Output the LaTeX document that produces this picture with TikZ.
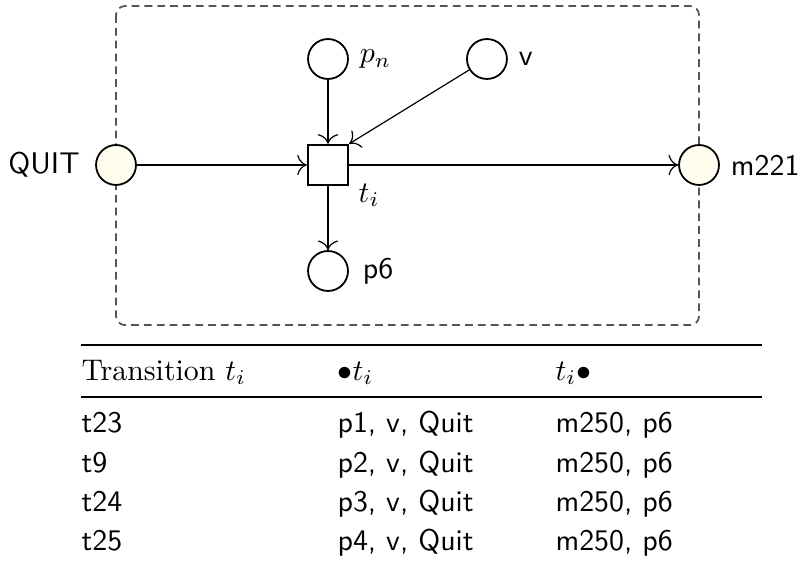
\documentclass[tikz,border=0pt]{standalone}
\usepackage{amsmath}
\usetikzlibrary{arrows.meta}

\begin{document}
\begin{tikzpicture}[
  place/.style={circle,draw,semithick,minimum size=0.47cm,inner sep=0pt},
  bound/.style={place,fill=pn_cream},
  trans/.style={rectangle,draw,thick,minimum size=0.47cm,inner sep=0pt},
  arc/.style={-{To[scale=1.3]},thin},
  lab/.style={font=\sffamily},
  cell/.style={anchor=base west,inner sep=0pt,font=\sffamily}
]
\definecolor{pn_cream}{RGB}{255,253,238} %#FFFDEE
\definecolor{pn_gray}{RGB}{85,85,85}     %#555555

\useasboundingbox (0,0) rectangle (9.412,-6.635);

\def\tl{0.953}
\def\tm{3.965}
\def\tr{6.529}
\def\te{8.965}

% subnet frame
\draw [pn_gray,semithick,dash pattern=on 2.6pt off 1.7pt,rounded corners=3pt]
  (1.365,-0.071) rectangle (8.224,-3.824);

\node [trans] (t) at (3.859,-1.941) {};
\node [anchor=north west,inner sep=0pt] (tlab) at ([xshift=3pt,yshift=1pt]t.south east) {$t_i$};

\node [place,label={[inner sep=3.5pt]right:$p_n$}] (pn) at (3.859,-0.694) {};
\node [place,label={[lab,inner sep=3.5pt]right:v}] (v) at (5.729,-0.694) {};
\node [place,label={[lab,inner sep=4.5pt]right:p6}] (p6) at (3.859,-3.188) {};
\node [bound,label={[lab,inner sep=5pt]left:QUIT}] (quit) at (1.365,-1.941) {};
\node [bound,label={[lab,inner sep=3.5pt]right:m221}] (m) at (8.224,-1.941) {};

\draw [arc] (quit) -- (t);
\draw [arc] (pn) -- (t);
\draw [arc] (v) -- (t.north east);
\draw [arc] (t) -- (m);
\draw [arc] (t) -- (p6);

% pre/post sets
\coordinate (top) at (\tl,-4.059);
\coordinate (mid) at (\tl,-4.671);
\draw [line width=0.8pt] (top) -- (\te,-4.059);
\draw [line width=0.5pt] (mid) -- (\te,-4.671);

\node [anchor=base west,inner sep=0pt] (h1) at (\tl,-4.471) {Transition $t_i$};
\node [anchor=base west,inner sep=0pt] (h2) at (\tm,-4.471) {$\bullet t_i$};
\node [anchor=base west,inner sep=0pt] (h3) at (\tr,-4.471) {$t_i\bullet$};

\foreach \tn/\pre [count=\i] in {t23/p1,t9/p2,t24/p3,t25/p4} {
  \node [cell] (tn\i)   at (\tl,{-4.635-0.459*\i}) {\tn};
  \node [cell] (pre\i)  at (\tm,{-4.635-0.459*\i}) {\pre, v, Quit};
  \node [cell] (post\i) at (\tr,{-4.635-0.459*\i}) {m250, p6};
}

\end{tikzpicture}
\end{document}
